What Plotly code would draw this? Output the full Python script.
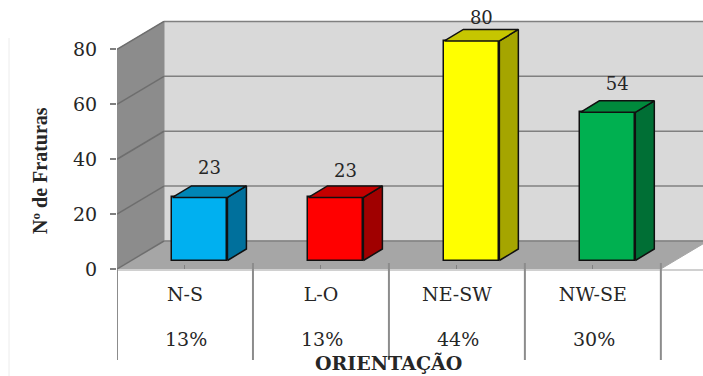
import plotly.graph_objects as go

# Chart data
categories = ["N-S", "L-O", "NE-SW", "NW-SE"]
values = [23, 23, 80, 54]
shares = ["13%", "13%", "44%", "30%"]
y_ticks = [0, 20, 40, 60, 80]

front_colors = ["#00b0f0", "#ff0000", "#ffff00", "#00b050"]
side_colors = ["#00709c", "#a00000", "#a5a500", "#006f35"]
top_colors = ["#0085b5", "#c40000", "#c6c600", "#008a3c"]

# Pseudo-3D geometry, in axis units
PX_X = 136.0
PX_Y = 2.744
WALL_DX = 47 / PX_X
WALL_DY = 28 / PX_Y
BAR_DX = 19 / PX_X
BAR_DY = 11.5 / PX_Y
BAR_BASE = 8.5 / PX_Y
BAR_WIDTH = 55 / PX_X
BAR_SHIFT = 0.11
X_MIN, X_MAX = -0.5, 3.81
Y_MAX = 269 / PX_Y
GRID = "#808080"
SERIF = "Liberation Serif"
WIDE_SERIF = "DejaVu Serif"
TEXT = "#262626"


def poly(xs, ys, fill, line=None, width=1.0):
    path = "M " + " L ".join(f"{x},{y}" for x, y in zip(xs, ys)) + " Z"
    return dict(type="path", path=path, xref="x", yref="y", fillcolor=fill, layer="below",
                line=dict(color=line or fill, width=width))


shapes = [
    # back wall, side wall and floor
    poly([X_MIN + WALL_DX, X_MAX, X_MAX, X_MIN + WALL_DX], [WALL_DY, WALL_DY, 80 + WALL_DY, 80 + WALL_DY], "#d9d9d9"),
    poly([X_MIN, X_MIN + WALL_DX, X_MIN + WALL_DX, X_MIN], [0, WALL_DY, 80 + WALL_DY, 80], "#8c8c8c"),
    poly([X_MIN, 3.5, 3.5 + WALL_DX, X_MIN + WALL_DX], [0, 0, WALL_DY, WALL_DY], "#a6a6a6"),
]
for t in y_ticks:
    shapes.append(dict(type="line", xref="x", yref="y", layer="below", x0=X_MIN + WALL_DX, x1=X_MAX,
                       y0=t + WALL_DY, y1=t + WALL_DY, line=dict(color=GRID, width=1.5)))
    shapes.append(dict(type="line", xref="x", yref="y", layer="below", x0=X_MIN, x1=X_MIN + WALL_DX,
                       y0=t, y1=t + WALL_DY, line=dict(color="#6e6e6e", width=1.5)))
# thin rule along the left of the page
shapes.append(dict(type="line", xref="paper", yref="paper", x0=-108 / 586, x1=-108 / 586,
                   y0=-107 / 269, y1=231 / 269, line=dict(color="#ececec", width=1)))
# table rules below the floor
for b in [-0.5, 0.5, 1.5, 2.5, 3.5]:
    shapes.append(dict(type="line", xref="x", yref="paper", x0=b, x1=b, y0=-91 / 269,
                       y1=6 / 269 if b > -0.5 else 0, line=dict(color="#8c8c8c", width=2)))

fig = go.Figure()

# Front faces
fig.add_trace(go.Bar(
    x=[i + BAR_SHIFT for i in range(4)], y=values, base=BAR_BASE, width=BAR_WIDTH,
    marker=dict(color=front_colors, line=dict(color="#101010", width=1.5)),
    hoverinfo="skip",
))

# Side and top faces of each bar
for i, v in enumerate(values):
    left = i + BAR_SHIFT - BAR_WIDTH / 2
    right = i + BAR_SHIFT + BAR_WIDTH / 2
    bottom, top = BAR_BASE, BAR_BASE + v
    fig.add_trace(go.Scatter(
        x=[right, right + BAR_DX, right + BAR_DX, right, right],
        y=[bottom, bottom + BAR_DY, top + BAR_DY, top, bottom],
        mode="lines", fill="toself", fillcolor=side_colors[i],
        line=dict(color="#101010", width=1.5), hoverinfo="skip",
    ))
    fig.add_trace(go.Scatter(
        x=[left, left + BAR_DX, right + BAR_DX, right, left],
        y=[top, top + BAR_DY, top + BAR_DY, top, top],
        mode="lines", fill="toself", fillcolor=top_colors[i],
        line=dict(color="#101010", width=1.5), hoverinfo="skip",
    ))

# Value labels above the bars
label_lift = [6.1, 4.7, 3.8, 5.7]
fig.add_trace(go.Scatter(
    x=[i + BAR_SHIFT + BAR_DX / 2 for i in range(4)],
    y=[BAR_BASE + v + BAR_DY + d for v, d in zip(values, label_lift)],
    mode="text", text=[str(v) for v in values], textposition="middle center",
    textfont=dict(family=WIDE_SERIF, size=18, color=TEXT), cliponaxis=False, hoverinfo="skip",
))

# Percentage row and axis titles
annotations = [
    dict(text=s, xref="x", yref="paper", x=i + 0.01, y=-70 / 269, showarrow=False,
         font=dict(family=WIDE_SERIF, size=19, color=TEXT), xanchor="center", yanchor="middle")
    for i, s in enumerate(shares)
]
annotations += [
    dict(text="<b>ORIENTAÇÃO</b>", xref="x", yref="paper", x=1.5, y=-94 / 269, showarrow=False,
         font=dict(family=WIDE_SERIF, size=19, color=TEXT), xanchor="center", yanchor="middle"),
    dict(text="<b>Nº de Fraturas</b>", xref="paper", yref="paper", x=-77 / 586, y=98 / 269, showarrow=False,
         textangle=-90, font=dict(family=SERIF, size=20, color=TEXT), xanchor="center", yanchor="middle"),
]

fig.update_layout(
    width=703, height=376, autosize=False, showlegend=False, bargap=0,
    margin=dict(l=117, r=0, t=0, b=107), paper_bgcolor="white", plot_bgcolor="white",
    shapes=shapes, annotations=annotations,
    xaxis=dict(
        range=[X_MIN, X_MAX], tickmode="array", tickvals=[0, 1, 2, 3], ticktext=categories,
        ticks="inside", ticklen=4, tickcolor="#808080", tickwidth=1, ticklabelstandoff=7,
        showgrid=False, zeroline=False, showline=True, linecolor="#d0d0d0", linewidth=1.5,
        tickfont=dict(family=WIDE_SERIF, size=19, color=TEXT),
    ),
    yaxis=dict(
        range=[0, Y_MAX], tickmode="array", tickvals=y_ticks, ticks="outside", ticklen=6,
        tickcolor="#808080", tickwidth=1.5, showgrid=False, zeroline=False, showline=False,
        ticklabelstandoff=9,
        tickfont=dict(family=WIDE_SERIF, size=19, color=TEXT),
    ),
)

fig.write_html("out.html", config=dict(displayModeBar=False))
